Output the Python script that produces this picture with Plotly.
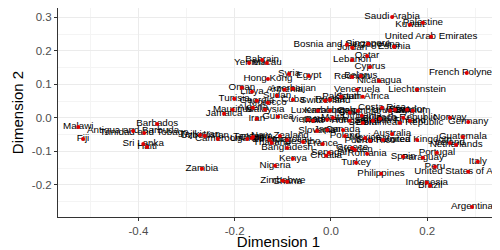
import plotly.graph_objects as go

countries = [
    "Saudi Arabia", "Palestine", "Kuwait", "United Arab Emirates", "Bosnia and Herzegovina",
    "Singapore", "Jordan", "Estonia", "Qatar", "Lebanon",
    "Cyprus", "Belarus", "Reunion", "Nicaragua", "Syria",
    "Egypt", "French Polynesia", "Venezuela", "Liechtenstein", "Azerbaijan",
    "Armenia", "Pakistan", "South Africa", "Switzerland", "Cuba",
    "Morocco", "Georgia", "Yemen", "Bahrain", "Macau",
    "Hong Kong", "Oman", "Libya", "Tunisia", "Mauritius",
    "Jamaica", "Algeria", "Guinea", "Luxembourg", "Costa Rica",
    "Belgium", "Czech Republic", "Norway", "Germany", "Malawi",
    "Fiji", "Barbados", "Antigua and Barbuda", "Trinidad and Tobago", "Sri Lanka",
    "Haiti", "Uzbekistan", "Tajikistan", "Cameroon", "Uganda",
    "China", "Zambia", "New Zealand", "Thailand", "Bangladesh",
    "Lesotho", "France", "Slovenia", "Poland", "Mexico",
    "Puerto Rico", "United Kingdom", "Australia", "Sweden", "Senegal",
    "Croatia", "Romania", "Kenya", "Nigeria", "Zimbabwe",
    "Ghana", "Turkey", "Philippines", "Spain", "Paraguay",
    "Portugal", "Peru", "Guatemala", "Netherlands", "Ireland",
    "Italy", "United States of America", "Indonesia", "Brazil", "Argentina",
    "India", "Botswana", "Malta", "Hungary", "Serbia",
    "Slovakia", "Bulgaria", "Dominican Republic", "Finland", "Chile",
    "Colombia", "Uruguay", "Ecuador", "Austria", "Sudan",
    "Malaysia", "Iran", "Vietnam", "Canada", "Japan",
    "South Korea", "Greece", "Mongolia", "Ethiopia", "Tanzania",
    "Kazakhstan", "Russia", "Lithuania",
]

dim1 = [
    0.127, 0.191, 0.164, 0.208, 0.033,
    0.077, 0.044, 0.131, 0.075, 0.044,
    0.081, 0.062, 0.044, 0.100, -0.087,
    -0.046, 0.282, 0.054, 0.179, -0.079,
    -0.096, 0.021, 0.066, -0.012, -0.079,
    -0.131, -0.154, -0.170, -0.143, -0.133,
    -0.131, -0.185, -0.164, -0.201, -0.204,
    -0.222, -0.162, -0.110, -0.027, 0.106,
    0.170, 0.150, 0.247, 0.285, -0.525,
    -0.515, -0.361, -0.411, -0.388, -0.390,
    -0.382, -0.262, -0.272, -0.235, -0.174,
    -0.164, -0.268, -0.106, -0.123, -0.091,
    -0.058, -0.017, -0.029, 0.029, 0.071,
    0.081, 0.179, 0.127, 0.050, -0.004,
    -0.010, 0.075, -0.079, -0.116, -0.100,
    -0.091, 0.052, 0.104, 0.150, 0.191,
    0.220, 0.216, 0.274, 0.260, 0.247,
    0.305, 0.285, 0.199, 0.206, 0.293,
    -0.037, -0.008, 0.004, 0.039, 0.066,
    0.087, 0.102, 0.143, 0.164, 0.039,
    0.056, 0.123, 0.158, 0.133, -0.112,
    -0.137, -0.154, -0.048, 0.025, -0.008,
    0.108, 0.044, -0.091, -0.127, -0.162,
    -0.002, -0.002, 0.064,
]

dim2 = [
    0.301, 0.284, 0.278, 0.242, 0.218,
    0.221, 0.209, 0.212, 0.185, 0.173,
    0.152, 0.125, 0.122, 0.110, 0.131,
    0.125, 0.134, 0.084, 0.084, 0.087,
    0.084, 0.063, 0.063, 0.051, 0.054,
    0.045, 0.051, 0.164, 0.173, 0.164,
    0.116, 0.090, 0.078, 0.057, 0.024,
    0.012, 0.030, 0.003, 0.021, 0.030,
    0.021, 0.000, 0.000, -0.012, -0.027,
    -0.063, -0.018, -0.039, -0.045, -0.078,
    -0.087, -0.054, -0.051, -0.063, -0.063,
    -0.060, -0.152, -0.054, -0.075, -0.090,
    -0.072, -0.078, -0.039, -0.054, -0.060,
    -0.069, -0.066, -0.048, -0.096, -0.104,
    -0.113, -0.107, -0.122, -0.143, -0.188,
    -0.191, -0.134, -0.167, -0.116, -0.119,
    -0.104, -0.146, -0.057, -0.081, -0.075,
    -0.131, -0.161, -0.194, -0.203, -0.266,
    -0.009, -0.006, 0.000, -0.009, -0.015,
    -0.009, -0.003, -0.015, -0.009, 0.015,
    0.021, 0.021, 0.024, 0.024, 0.066,
    0.024, -0.003, -0.006, -0.036, -0.036,
    -0.066, -0.090, -0.066, -0.066, -0.057,
    0.021, 0.054, 0.006,
]

x_ticks = [-0.4, -0.2, 0.0, 0.2]
x_tick_labels = ["-0.4", "-0.2", "0.0", "0.2"]
y_ticks = [-0.2, -0.1, 0.0, 0.1, 0.2, 0.3]
y_tick_labels = ["-0.2", "-0.1", "0.0", "0.1", "0.2", "0.3"]

fig = go.Figure()
fig.add_trace(go.Scatter(
    x=dim1, y=dim2, mode="text", text=countries,
    textposition="middle center",
    textfont=dict(family="Liberation Sans, Arial, sans-serif", size=9.8, color="#000000"),
    hoverinfo="skip", showlegend=False,
))
fig.add_trace(go.Scatter(
    x=dim1, y=dim2, mode="markers",
    marker=dict(color="#e00000", size=4, line=dict(width=0)),
    text=countries, showlegend=False,
))

axis_common = dict(
    showgrid=True, gridcolor="#ebebeb", gridwidth=1,
    zeroline=False, showline=True, linecolor="#333333", linewidth=1, mirror=True,
    ticks="outside", ticklen=3, tickcolor="#333333", tickwidth=1,
    tickfont=dict(family="Liberation Sans, Arial, sans-serif", size=11.5, color="#4d4d4d"),
    title_font=dict(family="Liberation Sans, Arial, sans-serif", size=15, color="#000000"),
)

# page body has an 8px default margin, so the figure is sized to fit the 500x250 window
fig.update_layout(
    width=492, height=242,
    margin=dict(l=50, r=1, t=0, b=33),
    paper_bgcolor="white", plot_bgcolor="white",
    xaxis=dict(
        range=[-0.567, 0.349], tickvals=x_ticks, ticktext=x_tick_labels,
        title=dict(text="Dimension 1", standoff=2),
        minor=dict(dtick=0.1, tick0=-0.5, showgrid=True, gridcolor="#f4f4f4", gridwidth=0.6, ticks=""),
        **axis_common,
    ),
    yaxis=dict(
        range=[-0.296, 0.328], tickvals=y_ticks, ticktext=y_tick_labels,
        title=dict(text="Dimension 2", standoff=4),
        minor=dict(dtick=0.05, tick0=-0.25, showgrid=True, gridcolor="#f4f4f4", gridwidth=0.6, ticks=""),
        **axis_common,
    ),
)

fig.write_html("out.html")
